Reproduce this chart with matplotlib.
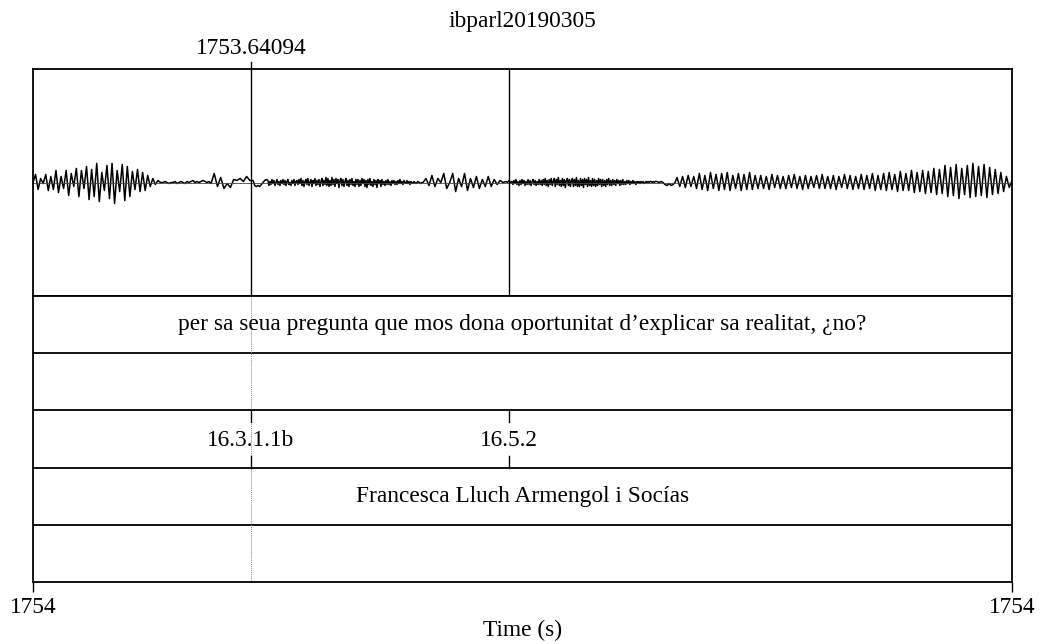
import numpy as np
import matplotlib
matplotlib.use("Agg")
import matplotlib.pyplot as plt

plt.rcParams['font.family'] = ['Liberation Serif', 'DejaVu Serif']

title = "ibparl20190305"
t_start = 1753.5296
t_end = 1754.0296
cursor_time = 1753.64094
cursor_label = "1753.64094"
x_tick_labels = ["1754", "1754"]
x_label = "Time (s)"

# TextGrid tiers (top to bottom)
tier_kinds = ["interval", "interval", "point", "interval", "interval"]
interval_texts = {0: "per sa seua pregunta que mos dona oportunitat d\u2019explicar sa realitat, \u00bfno?",
                  3: "Francesca Lluch Armengol i Soc\u00edas"}
point_times = [1753.64094, 1753.7727]
point_labels = ["16.3.1.1b", "16.5.2"]

# Waveform: segment boundaries (s) and read amplitude extremes per segment
seg_bounds = [1753.5296, 1753.5960, 1753.6205, 1753.6420, 1753.6496, 1753.7262,
              1753.7288, 1753.7712, 1753.7742, 1753.8473, 1753.8585, 1754.0296]
wave_a = [0, 8, -7, 4, -1, 8, -8, 6, -7, 12, -10, 6, -6, 12, -13, 9, -4, 14, -14, 12, -6,
          16, -17, 13, -14, 19, -19, 10, -8, 17, -16, 19, -21, 12, -9, 18, -18, 16, -14,
          11, -7, 13, -9, 10, -8, 7, -4, 4, -2, 2, 0]
wave_b = [0, 1, 0, -1, 0, 0, 1, -1, 0, 1, 0, -1, 1, 0, 1, 2, 0, 1, 0, 1, 2, 1, 0, 1]
wave_c = [-1, 9, -4, 5, -6, -1, -5, 3, 2, 4, 1, 6, 2]
wave_d = [2, -3, -4, -3, -4, -2, 0, 2, 3]
wave_e = [2, -3, 1, -2, 3, -1, 2, -3, 0, 3, -2, 1, -3, 2, -1, 3, -2, 2, -3, 1, 3, -2, 0, -3, 2, -1, 3, -3, 1, 2,
          -2, 3, -1, 4, -3, 2, -4, 1, 3, -2, 4, -3, 0, 3, -4, 2, -1, 4, -3, 2, -2, 3, -4, 1, 4, -3, 2, -2, 5, -3,
          4, -4, 2, -3, 5, -2, 3, -4, 4, -1, 3, -5, 2, 4, -3, 3, -4, 1, 4, -3, 2, -4, 3, -2, 4, -3, 1, -4, 3, -2,
          3, -4, 2, -3, 4, -1, 3, -4, 2, -5, 3, -2, 4, -3, 1, -4, 3, -2, 2, -5, 3, -1, 2, -4, 3, -2, 1, -3, 2, -2,
          3, -2, 1, -3, 2, -1, 2, -2, 1, -2, 2, -1, 3, -1, 1, -2, 2, 0, -1, 2, -1, 1, -2, 1, 0, -1, 1, 0, -1, 0]
wave_f = [1, 0, -1, 0]
wave_g = [0, 4, -3, 7, -4, 4, 0, 9, -6, 0, 9, -9, 4, -4, 9, -8, 4, -5, 6, -6, 3, -4, 6, -4, 3, -2, 2, 0]
wave_h = [1, 0, 2, 0]
wave_i = [1, -2, 2, -1, 3, -2, 1, -3, 2, -2, 3, -1, 2, -3, 1, -2, 3, -2, 2, -3, 1, 3, -2, 2, -3, 1, -2, 3, -2, 2,
          -3, 3, -2, 4, -3, 2, -4, 3, -2, 4, -3, 1, 4, -4, 3, -2, 5, -3, 2, -4, 4, -3, 3, -5, 2, 4, -3, 3, -4, 2,
          4, -4, 3, -3, 5, -4, 2, -4, 4, -3, 3, -5, 4, -2, 3, -4, 5, -3, 2, -4, 4, -3, 3, -4, 2, -3, 4, -2, 3, -4,
          3, -3, 2, -4, 3, -2, 4, -3, 2, -3, 3, -2, 2, -3, 3, -1, 2, -3, 2, -2, 3, -2, 1, -2, 2, -1, 2, -2, 1, -1,
          2, -1, 1, -2, 1, 0, 1, -1, 1, 0, 1, -1, 0, 1, 0, 1, 0, 1, 1, 0, 1, 0]
wave_j = [1, 1, 0, 1, 0, -2, -3, -1, -3, -2, 0]
wave_k = [5, -4, 6, -5, 7, -4, 6, -6,
          9, -7, 7, -8, 10, -6, 8, -8, 9, -7, 10, -8, 7, -6, 9, -8, 8, -7, 10, -7, 7, -6,
          7, -6, 6, -7, 8, -5, 7, -6, 6, -6, 7, -5, 8, -6, 6, -7, 7, -6, 6, -5, 7, -6, 8, -6,
          6, -6, 7, -7, 6, -5, 8, -6, 7, -7, 6, -6, 8, -7, 7, -6, 9, -8, 7, -7,
          9, -8, 10, -7, 8, -9, 11, -8, 9, -8, 12, -10, 10, -9, 12, -11, 11, -10,
          14, -12, 13, -11, 17, -14, 15, -13, 18, -16, 14, -12, 17, -15, 19, -14, 16, -13,
          18, -15, 15, -12, 13, -11, 10, -9, 6, -5, 2]
wave_segments = [wave_a, wave_b, wave_c, wave_d, wave_e, wave_f, wave_g, wave_h, wave_i, wave_j, wave_k]
amp_range = 113

times, amps = [], []
for i, seg in enumerate(wave_segments):
    last = (i == len(wave_segments) - 1)
    ts = np.linspace(seg_bounds[i], seg_bounds[i + 1], len(seg), endpoint=last)
    times.extend(ts)
    amps.extend(seg)

W, H = 1042, 644
fig = plt.figure(figsize=(W / 100, H / 100), dpi=100)
L, R, TOP, MID, BOT = 33, 1012, 69, 296, 582

ax_s = fig.add_axes([L / W, (H - MID) / H, (R - L) / W, (MID - TOP) / H])
ax_t = fig.add_axes([L / W, (H - BOT) / H, (R - L) / W, (BOT - MID) / H])

fs = 16.8
# sound panel
ax_s.plot(times, amps, color='black', lw=1.1)
ax_s.axhline(0, color='#444444', lw=0.6)
ax_s.set_xlim(t_start, t_end)
ax_s.set_ylim(-amp_range, amp_range)
ax_s.set_xticks([])
ax_s.set_yticks([])
for pt in point_times:
    ax_s.axvline(pt, color='black', lw=1.0)
ax_s.plot([cursor_time, cursor_time], [amp_range, amp_range * 1.06], color='black', lw=1.0, clip_on=False)
ax_s.text(cursor_time, amp_range * 1.18, cursor_label, ha='center', va='center', fontsize=fs)
fig.text(0.5 * (L + R) / W, 1 - 22 / H, title, ha='center', va='center', fontsize=fs)

# tiers
n = len(tier_kinds)
ax_t.set_xlim(t_start, t_end)
ax_t.set_ylim(n, 0)
ax_t.set_yticks([])
for k in range(1, n):
    ax_t.axhline(k, color='black', lw=1.3)
ax_t.axvline(cursor_time, color='#888888', lw=0.7, ls=(0, (1, 1)))
tc = 0.5 * (t_start + t_end)
for k, txt in interval_texts.items():
    ax_t.text(tc, k + 0.5, txt, ha='center', va='center', fontsize=fs)
pk = tier_kinds.index("point")
for pt, lab in zip(point_times, point_labels):
    ax_t.plot([pt, pt], [pk, pk + 0.2], color='black', lw=1.0)
    ax_t.plot([pt, pt], [pk + 0.8, pk + 1], color='black', lw=1.0)
    ax_t.text(pt, pk + 0.53, lab, ha='center', va='center', fontsize=fs)

ax_t.set_xticks([t_start, t_end])
ax_t.set_xticklabels(x_tick_labels, fontsize=fs)
ax_t.tick_params(axis='x', direction='out', length=7, width=1, pad=4)
ax_t.set_xlabel(x_label, fontsize=fs, labelpad=1)

for ax in (ax_s, ax_t):
    for sp in ax.spines.values():
        sp.set_linewidth(1.3)
        sp.set_color('black')

fig.savefig("out.png", dpi=100, facecolor='white')
